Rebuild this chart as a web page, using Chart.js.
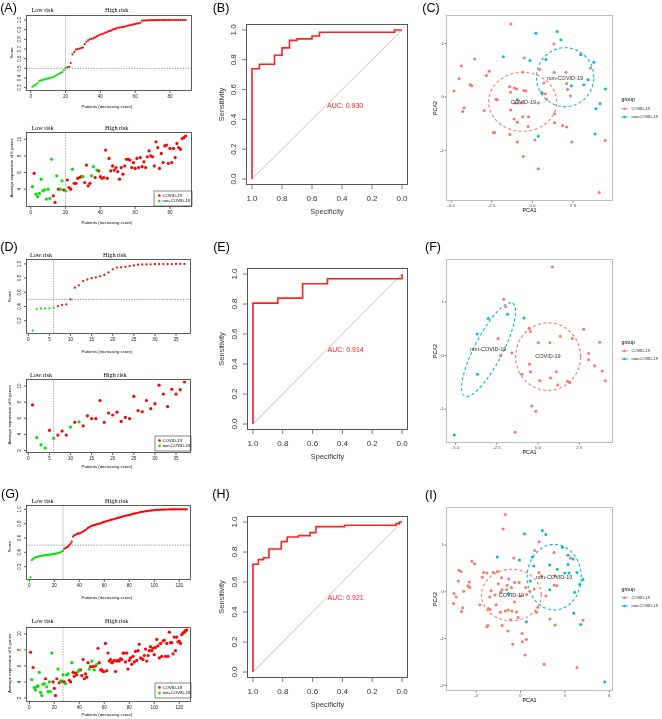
<!DOCTYPE html>
<html>
<head>
<meta charset="utf-8">
<script src="https://cdn.jsdelivr.net/npm/chart.js@4.4.0/dist/chart.umd.min.js"></script>
<style>
  body { margin: 0; background: #fff; }
  #fig { position: relative; width: 662px; height: 719px; overflow: hidden; background: #fff; }
  #fig canvas { position: absolute; }
</style>
</head>
<body>
<div id="fig"></div>
<script>
// ---------- risk score curves (patients sorted by score) ----------
const scoreA = [0.31,0.32,0.33,0.345,0.37,0.375,0.38,0.385,0.39,0.395,0.40,0.405,0.41,0.42,0.43,0.44,0.45,0.46,0.48,0.50,
  0.51,0.515,0.555,0.645,0.67,0.695,0.70,0.705,0.71,0.715,0.75,0.775,0.79,0.80,0.805,0.81,0.82,0.83,0.84,0.85,
  0.855,0.86,0.87,0.875,0.885,0.89,0.90,0.905,0.91,0.92,0.922,0.925,0.928,0.932,0.938,0.942,0.946,0.95,0.954,0.958,
  0.962,0.966,0.972,0.993,0.995,0.996,0.997,0.997,0.998,0.998,0.998,0.998,0.999,0.999,0.999,0.999,0.999,0.999,0.999,
  1,1,1,1,1,1,1,1,1,1];
const lowA = 20;
const scoreD = [0.06,0.365,0.37,0.372,0.375,0.38,0.407,0.421,0.43,0.50,0.666,0.70,0.76,0.78,0.80,0.81,0.826,0.845,0.88,0.925,
  0.95,0.953,0.96,0.97,0.98,0.99,0.993,0.995,0.996,0.997,0.998,0.998,0.999,0.999,1,1,1];
const lowD = 6;
const scoreG = [0.05,0.29,0.31,0.32,0.33,0.335,0.34,0.345,0.35,0.352,0.355,0.358,0.36,0.362,0.365,0.367,0.37,0.372,0.375,0.378,
  0.38,0.385,0.39,0.395,0.40,0.41,0.42,0.45,0.46,0.47,0.48,0.50,0.52,0.55,0.62,0.635,0.645,0.655,0.66,0.665,
  0.67,0.68,0.69,0.70,0.71,0.725,0.74,0.75,0.76,0.77,0.775,0.78,0.785,0.79,0.795,0.80,0.805,0.81,0.82,0.825,
  0.83,0.835,0.84,0.845,0.85,0.855,0.86,0.865,0.87,0.875,0.88,0.885,0.89,0.895,0.90,0.905,0.91,0.912,0.915,0.92,
  0.925,0.93,0.935,0.94,0.944,0.948,0.952,0.956,0.96,0.963,0.966,0.969,0.972,0.975,0.978,0.98,0.982,0.984,0.986,0.988,
  0.99,0.991,0.992,0.993,0.994,0.995,0.995,0.996,0.996,0.997,0.997,0.997,0.998,0.998,0.998,0.998,0.999,0.999,0.999,0.999,
  0.999,1,1,1,1,1];
const lowG = 27;

// ---------- average expression of 6 genes (same patient order) ----------
const exprA = [4.3,5.9,3.4,3.1,3.5,5.2,3.8,3.9,2.8,4.0,2.9,7.6,3.2,2.4,5.6,4.0,4.0,5.0,3.9,3.8,
  5.1,4.2,4.0,6.4,4.7,4.7,5.3,5.4,5.5,5.5,4.8,6.9,4.4,4.7,5.6,6.7,5.4,6.3,6.2,5.5,
  5.3,5.4,8.7,5.3,7.7,6.2,6.8,6.3,6.6,6.1,5.2,6.6,5.8,6.8,7.6,7.6,7.5,6.6,7.2,6.5,
  7.7,6.6,7.8,6.7,7.3,6.6,7.9,8.6,8.0,7.9,6.8,9.7,9.0,6.5,8.3,7.2,9.2,9.3,7.1,8.9,
  7.2,8.9,7.8,9.5,9.0,8.8,10.1,10.2,10.4];
const ctrlA = [1,3,4,5,6,7,8,9,10,11,12,15,17,18,20,24,30,35,36,38];
const exprD = [7.65,3.6,2.7,2.3,4.5,3.5,3.9,4.4,3.9,4.9,5.5,5.55,5.05,6.3,5.95,5.95,8.2,5.5,6.65,6.4,
  6.75,5.6,6.1,5.95,8.7,6.95,6.8,8.2,7.2,7.8,10.1,9.0,7.45,9.6,9.0,9.55,10.5];
const ctrlD = [2,3,4,6,10,12];
const exprG = [7.7,4.3,5.8,3.3,3.0,3.4,3.5,5.2,2.7,2.3,3.7,3.8,4.4,3.4,2.8,4.0,2.8,7.6,4.0,3.2,
  2.3,4.4,5.6,3.9,4.1,4.1,4.9,4.0,3.8,4.9,5.0,4.2,4.0,6.4,5.2,4.7,5.1,4.9,5.3,5.5,
  5.5,4.8,6.8,4.4,5.0,4.6,6.4,5.6,5.9,6.6,5.9,5.5,6.0,6.2,8.2,6.4,5.5,5.5,5.3,5.3,
  8.8,5.4,7.6,6.6,6.8,6.4,6.5,6.7,5.3,6.6,6.7,6.6,6.9,6.8,7.6,7.6,6.5,7.6,5.6,6.7,
  7.0,6.2,7.2,6.5,7.8,6.7,7.9,8.7,7.0,6.9,6.8,7.3,8.1,6.6,7.3,7.9,8.4,7.9,8.2,7.4,
  8.3,9.3,8.5,7.0,8.8,7.2,9.1,9.2,7.2,8.8,7.2,10.2,8.9,8.9,7.5,9.6,7.9,9.6,9.0,9.1,
  8.8,9.9,10.1,10.2,10.4,10.5];
const ctrlG = [2,4,5,6,7,8,9,10,11,12,14,15,16,17,18,23,25,27,29,30,31,34,39,40,48,50,52,54];

// ---------- ROC curves ----------
const specB = [1,1,0.95,0.95,0.85,0.85,0.8,0.8,0.75,0.75,0.7,0.7,0.6,0.6,0.55,0.55,0.05,0.05,0];
const sensB = [0,0.74,0.74,0.77,0.77,0.83,0.83,0.88,0.88,0.93,0.93,0.94,0.94,0.96,0.96,0.985,0.985,1,1];
const specE = [1,1,0.833,0.833,0.667,0.667,0.5,0.5,0,0];
const sensE = [0,0.806,0.806,0.839,0.839,0.935,0.935,0.968,0.968,1];
const specH = [1,1,0.964,0.964,0.929,0.929,0.893,0.893,0.81,0.81,0.77,0.77,0.695,0.695,0.617,0.617,0.577,0.577,0.385,0.385,0.04,0.04,0.018,0.018,0];
const sensH = [0,0.718,0.718,0.749,0.749,0.762,0.762,0.82,0.82,0.869,0.869,0.9,0.9,0.909,0.909,0.929,0.929,0.969,0.969,0.978,0.978,0.989,0.989,1,1];
const aucB = "AUC: 0.930", aucE = "AUC: 0.914", aucH = "AUC: 0.921";

// ---------- PCA ----------
const pcC_covX = [-1.32,-0.5,-3.55,-4.37,-4.5,-3.83,-3.73,-4.82,-4.2,-4.28,-2.96,-2.83,-2.65,-2.24,-2.16,-2.4,-2.32,-1.4,-1.34,-1.1,
  -0.97,-1.34,-1.07,-0.87,-0.66,-1.13,-0.93,-0.6,-0.24,-0.26,-1.38,-0.93,-0.56,0.15,0.36,-0.52,-0.4,-0.6,0.36,0.46,
  0.56,0.7,0.79,0.87,1.34,1.32,1.36,1.36,2.06,2.16,2.1,2.34,1.85,2.1,2.42,3.57,4.47,4.1];
const pcC_covY = [1.36,0.73,0.71,0.58,0.34,0.23,0.21,0.11,-0.2,-0.27,-0.25,0.40,0.48,-0.04,-0.05,-0.66,-0.66,0.19,0.09,0.17,
  0.15,-0.24,-0.11,-0.11,-0.11,-0.41,-0.47,-0.37,-0.37,-0.55,-0.70,-0.84,-1.11,-0.8,-1.34,0.12,0.11,0.46,-0.11,0.52,
  0.09,0.26,0.06,-0.04,0.46,0.99,-0.31,-0.48,0.46,0.14,0.25,0.02,-0.53,-0.56,-0.84,0.54,-0.81,-1.78];
const pcC_ctlX = [-1.79,0.21,1.52,1.75,-0.15,0.83,2.96,3.77,3.42,3.16,2.4,0.6,4.49,4.16,3.9,3.85,0.36,-0.93];
const pcC_ctlY = [0.75,1.19,1.22,1.07,0.68,0.70,0.79,0.65,0.32,0.23,0.21,0.07,0.15,-0.12,-0.22,-0.69,-0.73,-0.05];

const pcF_covX = [0.87,-2.08,-1.96,-2.42,-2.28,-1.59,-0.54,-0.46,0.02,0.71,1.35,2.08,2.76,3.06,3.06,3.43,3.73,3.89,4.07,-0.52,
  -0.46,-0.99,0.10,0.75,1.11,1.19,1.79,1.92,-0.38,-0.14,-1.39];
const pcF_covY = [1.65,1.05,0.91,0.32,0.00,0.05,0.51,0.45,0.24,0.24,0.36,0.32,0.49,0.04,-0.08,-0.19,0.25,-0.29,-0.47,-0.16,
  -0.30,-0.35,-0.47,-0.42,-0.30,-0.55,-0.48,-0.50,-0.94,-1.04,-1.43];
const pcF_ctlX = [-5.08,-3.69,-3.02,-1.85,-0.85,-3.67];
const pcF_ctlY = [-1.48,0.40,0.69,0.77,0.70,-0.35];

const pcI_covX = [-1.03,-1.17,-0.45,1.26,0.97,2.27,3.37,-3.28,-3.1,-4.16,-4.02,-4.2,-3.46,-3.55,-3.43,-3.84,-4.49,-4.34,-4.52,-3.91,
  -3.98,-2.49,-2.27,-2.58,-1.84,-1.55,-1.28,-0.79,-0.40,-0.09,-0.90,-1.24,-0.94,-0.61,0.36,0.00,0.43,0.63,0.92,-2.07,
  -1.71,-1.33,-2.74,-2.16,-2.07,-1.64,-1.35,-1.03,-0.83,-0.58,-0.27,-0.67,-0.16,-2.20,-2.27,-1.24,-0.85,0.11,0.13,0.40,
  -0.52,0.31,1.60,3.82,1.08,1.17,1.71,2.29,2.47,2.34,1.98,2.34,4.22,1.24,1.42,-1.5,-1.98,-0.4];
const pcI_covY = [1.65,1.34,0.72,1.07,0.88,0.84,0.72,0.65,0.6,0.46,0.43,0.23,0.21,0.13,0.09,0.01,-0.04,-0.11,-0.25,-0.34,
  -0.42,0.41,0.40,0.31,0.41,0.43,0.30,0.27,0.20,0.20,0.14,0.04,0.04,0.09,0.09,-0.09,-0.06,0.01,0.06,-0.11,
  -0.07,-0.01,-0.28,-0.36,-0.38,-0.28,-0.44,-0.41,-0.39,-0.41,-0.43,-0.60,-0.55,-0.72,-0.75,-0.72,-0.84,-0.89,-1.07,-1.02,
  -1.12,-1.35,-1.55,-1.62,-0.44,-0.33,-0.09,0.14,0.13,0.34,-0.58,-0.71,-0.61,0.41,0.34,0.17,0.02,-0.22];
const pcI_ctlX = [0.27,1.48,1.71,-1.57,-0.07,0.81,0.90,1.98,2.83,3.21,3.55,3.21,2.99,3.28,2.49,3.82,4.22,4.00,3.66,1.98,
  -0.81,0.40,3.60,4.07,5.69,0.67];
const pcI_ctlY = [1.24,1.31,1.22,0.74,0.68,0.74,0.55,0.57,0.95,0.78,0.70,0.58,0.40,0.40,0.48,0.41,0.26,0.16,-0.01,0.04,
  -0.04,-0.64,-0.46,-0.70,-1.93,0.23];

// 95% ellipses: centre and two conjugate semi-axes, in PCA units
const ellC = [{ c: [-0.6, -0.09], a: [2.09, 0], b: [0, 0.55], g: 0 }, { c: [2.01, 0.37], a: [1.76, 0], b: [0, 0.55], g: 1 }];
const ellF = [{ c: [0.61, -0.02], a: [1.97, 0], b: [0, 0.63], g: 0 }, { c: [-3.0, 0.11], a: [1.45, 0.865], b: [0.76, -0.12], g: 1 }];
const ellI = [{ c: [-0.61, -0.07], a: [2.02, 0], b: [0, 0.55], g: 0 }, { c: [2.28, 0.31], a: [1.83, 0], b: [0, 0.70], g: 1 }];

// ---------- tick labels ----------
const ticksA = [0, 20, 40, 60, 80];
const ticksD = [0, 5, 10, 15, 20, 25, 30, 35];
const ticksG = [0, 20, 40, 60, 80, 100, 120];
const scoreTicksA = ["0.3", "0.4", "0.5", "0.6", "0.7", "0.8", "0.9", "1.0"];
const scoreTicks = ["0.2", "0.4", "0.6", "0.8", "1.0"];
const exprTicksA = ["4", "6", "8", "10"];
const exprTicks = ["2", "4", "6", "8", "10"];
const rocTicks = ["0.0", "0.2", "0.4", "0.6", "0.8", "1.0"];
const pcTicksX = ["-5.0", "-2.5", "0.0", "2.5"];
const pcTicksXI = ["-3", "0", "3", "6"];
const pcTicksY = ["-1", "0", "1"];
const pcTicksYI = ["-2", "-1", "0", "1"];

const groups = ["COVID-19", "non-COVID-19"];

// ---------- styling ----------
const SANS = '"Liberation Sans", Arial, sans-serif';
const SERIF = '"Liberation Serif", "Times New Roman", serif';
const RED = "#ff0000", GREEN = "#00e400";
const GG = ["#F8766D", "#00BFC4"];
const fig = document.getElementById("fig");

const rAxis = { box: "#333", boxWidth: 0.8, font: `4.6px ${SANS}`, color: "#222", tickColor: "#333", tick: 2, xOff: 6, yOff: 6, rot: true };
const rocAxis = { box: "#555", boxWidth: 1, font: `8px ${SANS}`, color: "#333", tickColor: "#555", tick: 4, xOff: 14, yOff: 12, rot: true };
const ggAxis = { box: "#b8b8b8", boxWidth: 0.9, font: `4.4px ${SANS}`, color: "#4d4d4d", tickColor: "#4d4d4d", tick: 1.5, xOff: 4.8, yOff: 2.2, rot: false };

const framePlugin = {
  id: "frame",
  beforeDatasetsDraw(chart, args, o) {
    const ctx = chart.ctx, xs = chart.scales.x, ys = chart.scales.y, a = chart.chartArea;
    ctx.save();
    ctx.beginPath();
    ctx.rect(a.left, a.top, a.right - a.left, a.bottom - a.top);
    ctx.clip();
    for (const r of o.lines || []) {
      ctx.strokeStyle = r.color;
      ctx.lineWidth = r.width;
      ctx.setLineDash(r.dash || []);
      ctx.beginPath();
      if (r.v !== undefined) {
        const p = xs.getPixelForValue(r.v);
        ctx.moveTo(p, a.top); ctx.lineTo(p, a.bottom);
      } else if (r.h !== undefined) {
        const p = ys.getPixelForValue(r.h);
        ctx.moveTo(a.left, p); ctx.lineTo(a.right, p);
      } else {
        ctx.moveTo(xs.getPixelForValue(r.from[0]), ys.getPixelForValue(r.from[1]));
        ctx.lineTo(xs.getPixelForValue(r.to[0]), ys.getPixelForValue(r.to[1]));
      }
      ctx.stroke();
    }
    for (const e of o.ellipses || []) {
      const c = [xs.getPixelForValue(e.c[0]), ys.getPixelForValue(e.c[1])];
      const u = [xs.getPixelForValue(e.c[0] + e.a[0]) - c[0], ys.getPixelForValue(e.c[1] + e.a[1]) - c[1]];
      const w = [xs.getPixelForValue(e.c[0] + e.b[0]) - c[0], ys.getPixelForValue(e.c[1] + e.b[1]) - c[1]];
      ctx.strokeStyle = GG[e.g];
      ctx.lineWidth = 1.1;
      ctx.setLineDash([3, 2.4]);
      ctx.beginPath();
      for (let k = 0; k <= 120; k++) {
        const t = (k / 120) * Math.PI * 2;
        const px = c[0] + u[0] * Math.cos(t) + w[0] * Math.sin(t);
        const py = c[1] + u[1] * Math.cos(t) + w[1] * Math.sin(t);
        if (k) ctx.lineTo(px, py); else ctx.moveTo(px, py);
      }
      ctx.stroke();
    }
    ctx.restore();
  },
  afterDatasetsDraw(chart, args, o) {
    const ctx = chart.ctx, xs = chart.scales.x, ys = chart.scales.y, a = chart.chartArea;
    const ax = o.axis;
    ctx.save();
    ctx.setLineDash([]);
    ctx.strokeStyle = ax.box;
    ctx.lineWidth = ax.boxWidth;
    ctx.strokeRect(a.left + 0.5, a.top + 0.5, a.right - a.left - 1, a.bottom - a.top - 1);

    ctx.font = ax.font;
    ctx.fillStyle = ax.color;
    ctx.strokeStyle = ax.tickColor;
    ctx.lineWidth = 0.8;
    ctx.textBaseline = "middle";
    o.xTicks.forEach((v, i) => {
      const p = xs.getPixelForValue(v);
      ctx.beginPath(); ctx.moveTo(p, a.bottom); ctx.lineTo(p, a.bottom + ax.tick); ctx.stroke();
      ctx.textAlign = "center";
      ctx.fillText(o.xLabels[i], p, a.bottom + ax.xOff);
    });
    o.yTicks.forEach((v, i) => {
      const p = ys.getPixelForValue(v);
      ctx.beginPath(); ctx.moveTo(a.left, p); ctx.lineTo(a.left - ax.tick, p); ctx.stroke();
      if (ax.rot) {
        ctx.save();
        ctx.translate(a.left - ax.yOff, p);
        ctx.rotate(-Math.PI / 2);
        ctx.textAlign = "center";
        ctx.fillText(o.yLabels[i], 0, 0);
        ctx.restore();
      } else {
        ctx.textAlign = "right";
        ctx.fillText(o.yLabels[i], a.left - ax.yOff, p);
      }
    });

    for (const t of o.texts || []) {
      const x = t.data ? xs.getPixelForValue(t.x) : t.x - o.ox;
      const y = t.data ? ys.getPixelForValue(t.y) : t.y - o.oy;
      ctx.save();
      ctx.translate(x, y);
      if (t.rot) ctx.rotate(-Math.PI / 2);
      ctx.font = t.font;
      ctx.fillStyle = t.color || "#000";
      ctx.textAlign = t.align || "center";
      ctx.textBaseline = "middle";
      ctx.fillText(t.text, 0, 0);
      ctx.restore();
    }

    const lg = o.rLegend;
    if (lg) {
      ctx.strokeStyle = "#333";
      ctx.lineWidth = 0.6;
      ctx.strokeRect(lg.box[0] - o.ox, lg.box[1] - o.oy, lg.box[2] - lg.box[0], lg.box[3] - lg.box[1]);
      ctx.font = `4.2px ${SANS}`;
      ctx.textAlign = "left";
      lg.rows.forEach((y, i) => {
        ctx.fillStyle = [RED, GREEN][i];
        ctx.beginPath(); ctx.arc(lg.dotX - o.ox, y - o.oy, 1.3, 0, Math.PI * 2); ctx.fill();
        ctx.fillStyle = "#000";
        ctx.fillText(groups[i], lg.textX - o.ox, y - o.oy);
      });
    }
    const gl = o.gLegend;
    if (gl) {
      ctx.fillStyle = "#000";
      ctx.textAlign = "left";
      ctx.font = `5.2px ${SANS}`;
      ctx.fillText("group", gl.x - o.ox, gl.titleY - o.oy);
      ctx.font = `4px ${SANS}`;
      gl.rows.forEach((y, i) => {
        const kx = gl.x + 3 - o.ox, ky = y - o.oy;
        ctx.strokeStyle = GG[i]; ctx.lineWidth = 0.9;
        ctx.beginPath(); ctx.moveTo(kx - 3, ky); ctx.lineTo(kx + 3.5, ky); ctx.stroke();
        ctx.fillStyle = GG[i];
        ctx.beginPath(); ctx.arc(kx, ky, 1.3, 0, Math.PI * 2); ctx.fill();
        ctx.fillStyle = "#1a1a1a";
        ctx.fillText(groups[i], gl.x + 10 - o.ox, ky);
      });
    }
    ctx.restore();
  }
};

// rect = canvas [left, top, width, height]; box = plot area [l, t, r, b] in page pixels
function makeChart(rect, box, xr, yr, datasets, frame) {
  const c = document.createElement("canvas");
  c.width = rect[2];
  c.height = rect[3];
  c.style.left = rect[0] + "px";
  c.style.top = rect[1] + "px";
  fig.appendChild(c);
  frame.ox = rect[0];
  frame.oy = rect[1];
  return new Chart(c, {
    type: "scatter",
    data: { datasets },
    options: {
      responsive: false,
      animation: false,
      devicePixelRatio: 1,
      layout: {
        padding: {
          left: box[0] - rect[0],
          top: box[1] - rect[1],
          right: rect[0] + rect[2] - box[2],
          bottom: rect[1] + rect[3] - box[3],
        },
      },
      scales: {
        x: { type: "linear", display: false, min: xr[0], max: xr[1], reverse: !!xr[2] },
        y: { type: "linear", display: false, min: yr[0], max: yr[1] },
      },
      plugins: { legend: { display: false }, tooltip: { enabled: false }, frame },
    },
    plugins: [framePlugin],
  });
}

function dot(data, color, r) {
  return { data, backgroundColor: color, borderWidth: 0, pointRadius: r, pointHoverRadius: r };
}
function riskSets(scores, low) {
  const all = scores.map((v, i) => ({ x: i + 1, y: v }));
  return [dot(all.slice(0, low), GREEN, 1.1), dot(all.slice(low), RED, 1.1)];
}
function exprSets(expr, ctrl) {
  const all = expr.map((v, i) => ({ x: i + 1, y: v }));
  const isCtrl = new Set(ctrl);
  return [dot(all.filter(p => isCtrl.has(p.x)), GREEN, 1.6), dot(all.filter(p => !isCtrl.has(p.x)), RED, 1.6)];
}
function rocSet(spec, sens) {
  return [{ data: spec.map((s, i) => ({ x: s, y: sens[i] })), showLine: true, borderColor: "#ff2020", borderWidth: 1.6, pointRadius: 0, fill: false }];
}
function pcaSets(cx, cy, tx, ty) {
  const p = (xs, ys) => xs.map((x, i) => ({ x, y: ys[i] }));
  return [dot(p(tx, ty), GG[1], 1.5), dot(p(cx, cy), GG[0], 1.5)];
}
const num = arr => arr.map(Number);
const dottedCut = low => ({ v: low, color: "#9a9a9a", width: 0.8, dash: [1.5, 1.2] });
const solidCut = low => ({ v: low, color: "#c8c8c8", width: 0.9 });
const T = (text, x, y, font, extra) => Object.assign({ text, x, y, font }, extra || {});
const panelFont = `12.5px ${SANS}`, riskFont = `6.2px ${SERIF}`, smallTitle = `4.3px ${SANS}`;

// ---------- column 1: risk score + expression ----------
function riskPair(id, low, scores, expr, ctrl, xTicks, xr, rows) {
  const s = rows.score, e = rows.expr;
  const cut = s.solid ? solidCut(low) : dottedCut(low);
  makeChart(s.rect, s.box, xr, s.yr, riskSets(scores, low), {
    axis: rAxis, xTicks, xLabels: xTicks.map(String), yTicks: num(s.yLabels), yLabels: s.yLabels,
    lines: [cut, { h: 0.5, color: "#8a8a8a", width: 0.8, dash: [1.5, 1.2] }],
    texts: [
      T(id, s.pl[0], s.pl[1], panelFont),
      T("Low risk", s.risk[0], s.risk[2], riskFont), T("High risk", s.risk[1], s.risk[2], riskFont),
      T("Score", s.yt[0], s.yt[1], smallTitle, { rot: true }),
      T("Patients (increasing score)", 107, s.xt, smallTitle),
    ],
  });
  makeChart(e.rect, e.box, xr, e.yr, exprSets(expr, ctrl), {
    axis: rAxis, xTicks, xLabels: xTicks.map(String), yTicks: num(e.yLabels), yLabels: e.yLabels,
    lines: [dottedCut(low)],
    texts: [
      T("Low risk", e.risk[0], e.risk[2], riskFont), T("High risk", e.risk[1], e.risk[2], riskFont),
      T("Average expression of 6 genes", e.yt[0], e.yt[1], smallTitle, { rot: true }),
      T("Patients (increasing score)", 107, e.xt, smallTitle),
    ],
    rLegend: e.legend,
  });
}

riskPair("(A)", lowA, scoreA, exprA, ctrlA, ticksA, [-2.7, 92.65], {
  score: { rect: [0, 0, 208, 113], box: [26, 15, 192, 91], yr: [0.265, 1.052], yLabels: scoreTicksA, solid: true,
    pl: [8.5, 8.5], risk: [42.5, 116.7, 10], yt: [11.5, 53], xt: 107 },
  expr: { rect: [0, 113, 208, 119], box: [26, 132, 192, 207], yr: [1.85, 10.88], yLabels: exprTicksA,
    risk: [42.5, 116.7, 128.3], yt: [11.5, 168], xt: 223,
    legend: { box: [154, 191, 192, 206], rows: [195.5, 201], dotX: 159.3, textX: 162.5 } },
});
riskPair("(D)", lowD, scoreD, exprD, ctrlD, ticksD, [-0.55, 38.55], {
  score: { rect: [0, 232, 208, 125], box: [26, 259, 191, 334], yr: [0.012, 1.07], yLabels: scoreTicks,
    pl: [9, 248], risk: [41, 114.7, 255.7], yt: [9.5, 296.7], xt: 351.7 },
  expr: { rect: [0, 357, 208, 118], box: [26, 379, 191, 453], yr: [1.68, 10.87], yLabels: exprTicks,
    risk: [41, 115, 375], yt: [9.5, 415], xt: 467,
    legend: { box: [155, 436, 191, 451], rows: [440.5, 446], dotX: 159.5, textX: 162.7 } },
});
riskPair("(G)", lowG, scoreG, exprG, ctrlG, ticksG, [-2.64, 129.4], {
  score: { rect: [0, 475, 208, 131], box: [26, 505, 191, 580], yr: [0.014, 1.06], yLabels: scoreTicks, solid: true,
    pl: [10, 495], risk: [42.5, 116.7, 501], yt: [9.5, 546.7], xt: 598.3 },
  expr: { rect: [0, 606, 208, 113], box: [26, 627, 191, 702], yr: [1.5, 10.85], yLabels: exprTicks,
    risk: [42.5, 116.7, 621], yt: [9.5, 663.3], xt: 715,
    legend: { box: [155, 683, 191, 698], rows: [687.5, 693], dotX: 159.5, textX: 162.7 } },
});

// ---------- column 2: ROC (specificity axis runs 1 -> 0) ----------
function rocPanel(id, spec, sens, auc, rect, box, pl) {
  makeChart(rect, box, [-0.04, 1.04, true], [-0.04, 1.04], rocSet(spec, sens), {
    axis: rocAxis, xTicks: num(rocTicks), xLabels: rocTicks, yTicks: num(rocTicks), yLabels: rocTicks,
    lines: [{ from: [1, 0], to: [0, 1], color: "#b8b8b8", width: 0.8 }],
    texts: [
      T(id, pl[0], pl[1], panelFont),
      T("Specificity", (box[0] + box[2]) / 2, box[3] + 27, `7.4px ${SANS}`, { color: "#333" }),
      T("Sensitivity", 222, (box[1] + box[3]) / 2, `7.4px ${SANS}`, { rot: true, color: "#333" }),
      T(auc, 0.5, 0.49, `7px ${SANS}`, { data: true, align: "left", color: "#ff2020" }),
    ],
  });
}
rocPanel("(B)", specB, sensB, aucB, [208, 0, 212, 235], [246, 24, 408, 185], [221, 8.5]);
rocPanel("(E)", specE, sensE, aucE, [208, 235, 212, 240], [247, 268, 408, 430], [221.5, 248]);
rocPanel("(H)", specH, sensH, aucH, [208, 475, 212, 244], [247, 516, 408, 678], [221, 495]);

// ---------- column 3: PCA ----------
function pcaPanel(id, cov, ctl, ell, labels, rect, box, xr, yr, xt, yt, pl, leg) {
  makeChart(rect, box, xr, yr, pcaSets(cov[0], cov[1], ctl[0], ctl[1]), {
    axis: ggAxis, xTicks: num(xt), xLabels: xt, yTicks: num(yt), yLabels: yt,
    ellipses: ell,
    texts: [
      T(id, pl[0], pl[1], panelFont),
      T("PCA1", (box[0] + box[2]) / 2, box[3] + 10, `5.4px ${SANS}`),
      T("PCA2", 435.5, (box[1] + box[3]) / 2, `5.4px ${SANS}`, { rot: true }),
      T(groups[0], labels[0][0], labels[0][1], `5.5px ${SANS}`, { data: true, color: "#333" }),
      T(groups[1], labels[1][0], labels[1][1], `5.5px ${SANS}`, { data: true, color: "#333" }),
    ],
    gLegend: { x: 621.5, titleY: leg[0], rows: [leg[1], leg[2]] },
  });
}
pcaPanel("(C)", [pcC_covX, pcC_covY], [pcC_ctlX, pcC_ctlY], ellC, [[-0.56, -0.1], [1.99, 0.34]],
  [420, 0, 242, 235], [446, 15, 613, 201], [-5.31, 4.95], [-1.94, 1.53], pcTicksX, pcTicksY, [431, 9], [99.3, 108.7, 117]);
pcaPanel("(F)", [pcF_covX, pcF_covY], [pcF_ctlX, pcF_ctlY], ellF, [[0.6, -0.02], [-3.02, 0.11]],
  [420, 235, 242, 240], [446, 259, 613, 443], [-5.58, 4.54], [-1.63, 1.80], pcTicksX, pcTicksY, [433, 248], [342.3, 351, 359]);
pcaPanel("(I)", [pcI_covX, pcI_covY], [pcI_ctlX, pcI_ctlY], ellI, [[-0.61, -0.07], [2.27, 0.31]],
  [420, 475, 242, 244], [446, 507, 613, 691], [-5.03, 6.25], [-2.12, 1.81], pcTicksXI, pcTicksYI, [431, 495.7], [589.3, 597.7, 606]);
</script>
</body>
</html>
